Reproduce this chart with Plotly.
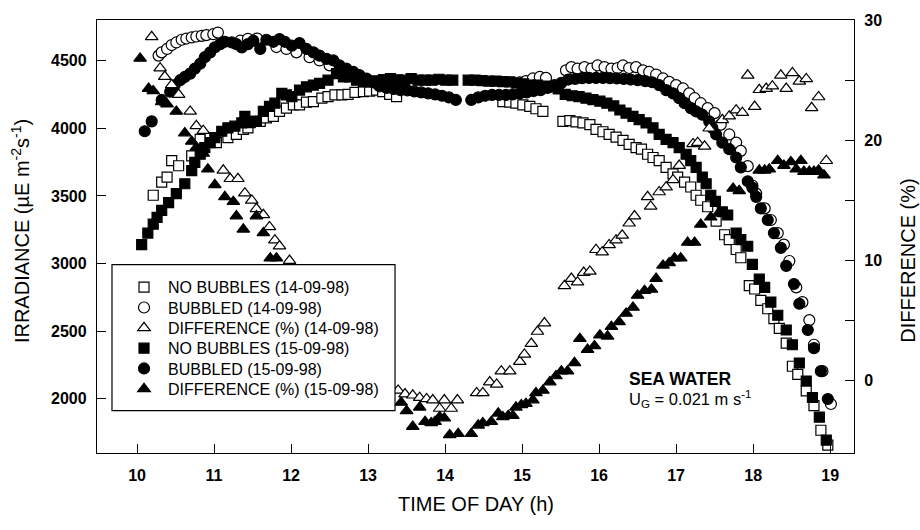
import plotly.graph_objects as go

# ---- 14-09-98: no bubbles (irradiance) ----
t_nb14 = [10.21, 10.32, 10.39, 10.45, 10.54, 10.71, 10.82, 10.95, 11.03, 11.18, 11.29, 11.38, 11.44,
          11.51, 11.60, 11.68, 11.77, 11.85, 11.94, 12.03, 12.11, 12.20, 12.29, 12.40, 12.48, 12.57,
          12.66, 12.74, 12.83, 12.94, 13.02, 13.11, 13.19, 13.28, 13.37,
          14.75, 14.84, 14.92, 15.01, 15.10, 15.18, 15.27,
          15.53, 15.62, 15.70, 15.79, 15.88, 15.96, 16.05, 16.13, 16.22, 16.31, 16.39, 16.48, 16.55,
          16.63, 16.70, 16.78, 16.87, 16.96, 17.02, 17.11, 17.19, 17.26, 17.32, 17.41, 17.52, 17.63,
          17.69, 17.78, 17.84, 17.95, 18.02, 18.10, 18.19, 18.27, 18.34, 18.43, 18.51, 18.58, 18.69,
          18.79, 18.88, 18.97]
v_nb14 = [3505, 3602, 3639, 3760, 3723, 3796, 3918, 3930, 3894, 3930, 3954, 3991, 4003,
          4051, 4051, 4076, 4088, 4124, 4149, 4173, 4173, 4193, 4197, 4222, 4233, 4246,
          4246, 4250, 4265, 4270, 4275, 4282, 4270, 4250, 4233,
          4197, 4193, 4185, 4173, 4161, 4144, 4124,
          4051, 4056, 4047, 4040, 4027, 3991, 3974, 3954, 3934, 3911, 3881, 3857, 3845,
          3808, 3784, 3760, 3711, 3663, 3639, 3602, 3566, 3505, 3468, 3420, 3313, 3213,
          3177, 3104, 3043, 2837, 2812, 2728, 2666, 2593, 2521, 2412, 2241, 2181, 2059,
          1950, 1768, 1658]

# ---- 14-09-98: bubbled (irradiance) ----
t_b14 = [10.28, 10.32, 10.39, 10.45, 10.51, 10.58, 10.64, 10.71, 10.77, 10.84, 10.90, 10.99, 11.05,
         11.34, 11.44, 11.56, 11.81, 11.94, 12.07, 12.24, 12.37, 12.50, 12.63, 12.83, 13.11, 13.19,
         14.97, 15.05, 15.14, 15.23, 15.31,
         15.57, 15.64, 15.72, 15.81, 15.90, 15.98, 16.07, 16.16, 16.24,
         16.31, 16.39, 16.48, 16.57, 16.65, 16.74, 16.83, 16.91, 17.00, 17.09, 17.17, 17.24, 17.32,
         17.41, 17.50, 17.58, 17.69, 17.78, 17.84, 17.93, 17.99, 18.04, 18.15, 18.23, 18.32, 18.40,
         18.47, 18.56, 18.64, 18.73, 18.79, 18.90, 19.01]
v_b14 = [4537, 4561, 4586, 4615, 4634, 4654, 4663, 4671, 4678, 4683, 4688, 4695, 4707,
         4647, 4661, 4663, 4600, 4586, 4561, 4525, 4501, 4465, 4428, 4377, 4331, 4319,
         4340, 4348, 4368, 4379, 4372,
         4428, 4452, 4440, 4452, 4440, 4464, 4452, 4440, 4445,
         4464, 4445, 4452, 4428, 4416, 4397, 4368, 4343, 4319, 4294, 4258, 4222, 4185,
         4149, 4112, 4027, 3954, 3894, 3833, 3720, 3577, 3517, 3408, 3322, 3225, 3140,
         3019, 2824, 2715, 2582, 2400, 2205, 1962]

# ---- 14-09-98: difference (%) ----
t_d14 = [10.19, 10.30, 10.36, 10.45, 10.54, 10.69, 10.77, 10.86, 11.12, 11.21, 11.31, 11.40, 11.49,
         11.55, 11.64, 11.72, 11.79, 11.85, 11.98,
         13.39, 13.48, 13.58, 13.67, 13.76, 13.84, 13.93, 13.99, 14.08, 14.16,
         14.41, 14.49, 14.58, 14.67, 14.73, 14.84, 14.97, 15.03, 15.12, 15.20, 15.29,
         15.55, 15.64, 15.72, 15.80, 15.88, 15.96, 16.04, 16.13, 16.22, 16.30, 16.39, 16.46,
         16.63, 16.67, 16.78, 16.87, 16.96, 17.04, 17.22, 17.28, 17.37, 17.43, 17.60, 17.69,
         17.78, 17.86, 17.93, 18.02, 18.08, 18.17, 18.25, 18.36, 18.43, 18.51, 18.60, 18.69,
         18.76, 18.85, 18.95]
d_d14 = [28.6, 26.0, 25.3, 24.6, 23.8, 22.4, 21.2, 20.8, 17.5, 16.8, 16.8, 15.6, 15.0,
         14.3, 13.8, 12.8, 11.7, 11.2, 10.0,
         -0.8, -1.1, -1.2, -1.4, -1.5, -1.6, -2.3, -1.6, -2.3, -1.6,
         -1.0, -1.0, -0.1, -0.3, 0.8, 0.8, 1.6, 2.2, 3.1, 4.1, 4.8,
         7.9, 8.5, 8.2, 9.0, 9.1, 10.9, 10.7, 11.3, 11.7, 12.1, 13.1, 13.7,
         15.3, 14.5, 15.7, 16.1, 16.7, 17.9, 19.7, 19.8, 19.5, 21.0, 21.7, 22.0,
         22.5, 22.3, 25.4, 22.8, 24.2, 24.3, 24.5, 25.4, 24.3, 25.6, 24.9, 25.1,
         22.7, 23.6, 18.3]

# ---- 15-09-98: no bubbles (irradiance) ----
t_nb15 = [10.06, 10.14, 10.21, 10.26, 10.32, 10.41, 10.51, 10.62, 10.71, 10.75, 10.82, 10.88, 10.95,
          11.01, 11.10, 11.18, 11.27, 11.36, 11.40, 11.47, 11.55, 11.64, 11.72, 11.79, 11.88, 11.94,
          12.01, 12.11, 12.20, 12.29, 12.37, 12.48, 12.59, 12.68, 12.76, 12.85, 12.94, 13.02,
          13.11, 13.20, 13.29, 13.38, 13.47, 13.56, 13.65, 13.74, 13.83, 13.92, 14.01, 14.10,
          14.30, 14.39, 14.48, 14.57, 14.66, 14.75, 14.84, 14.93, 15.02, 15.11, 15.20, 15.29,
          15.38, 15.47, 15.56, 15.65, 15.74, 15.83, 15.92, 16.01, 16.10, 16.19, 16.27,
          16.35, 16.44, 16.52, 16.61, 16.70, 16.78, 16.87, 16.96, 17.04, 17.13, 17.19, 17.26,
          17.34, 17.39, 17.45, 17.51, 17.60, 17.67, 17.78, 17.84, 17.93, 17.99, 18.08, 18.15,
          18.23, 18.32, 18.43, 18.51, 18.60, 18.69, 18.77, 18.86, 18.95]
v_nb15 = [3140, 3225, 3291, 3342, 3393, 3451, 3517, 3590, 3687, 3748, 3808, 3857, 3894,
          3930, 3978, 4003, 4015, 4039, 4088, 4042, 4051, 4124, 4161, 4185, 4258, 4246,
          4233, 4282, 4306, 4319, 4331, 4355, 4404, 4379, 4379, 4355, 4343, 4343,
          4350, 4360, 4367, 4358, 4355, 4367, 4355, 4355, 4355, 4362, 4355, 4355,
          4355, 4355, 4352, 4348, 4348, 4345, 4343, 4335, 4328, 4319, 4319, 4312,
          4306, 4290, 4250, 4240, 4233, 4222, 4212, 4200, 4185, 4165, 4135,
          4112, 4088, 4064, 4039, 4003, 3954, 3918, 3894, 3857, 3808, 3760, 3711,
          3639, 3590, 3505, 3459, 3383, 3359, 3225, 3177, 3128, 2994, 2885, 2824,
          2715, 2618, 2509, 2400, 2265, 2132, 2010, 1865, 1695]

# ---- 15-09-98: bubbled (irradiance) ----
t_b15 = [10.10, 10.19, 10.32, 10.43, 10.49, 10.56, 10.62, 10.69, 10.75, 10.82, 10.88, 10.95, 11.01,
         11.08, 11.14, 11.23, 11.29, 11.36, 11.44, 11.51, 11.60, 11.68, 11.77, 11.85, 11.92, 12.01,
         12.11, 12.20, 12.29, 12.37, 12.46, 12.55, 12.63, 12.72, 12.81, 12.89, 12.98, 13.06,
         13.15, 13.24, 13.33, 13.42, 13.51, 13.60, 13.69, 13.78, 13.87, 13.96, 14.05, 14.14,
         14.34, 14.43, 14.52, 14.61, 14.70, 14.79, 14.88, 14.97, 15.06, 15.15, 15.24, 15.33,
         15.42, 15.51, 15.60, 15.69, 15.78, 15.87, 15.96, 16.05, 16.14, 16.23, 16.32, 16.41,
         16.50, 16.60, 16.69, 16.78, 16.87, 16.96, 17.04, 17.11, 17.19, 17.26, 17.34, 17.43,
         17.47, 17.52, 17.60, 17.69, 17.78, 17.84, 17.93, 17.99, 18.04, 18.10, 18.19, 18.27,
         18.36, 18.43, 18.53, 18.60, 18.71, 18.79, 18.88, 18.97]
v_b15 = [3978, 4051, 4209, 4270, 4319, 4355, 4379, 4404, 4440, 4477, 4525, 4561, 4598,
         4622, 4639, 4634, 4622, 4598, 4622, 4647, 4586, 4654, 4639, 4659, 4639, 4610,
         4630, 4586, 4561, 4537, 4513, 4501, 4464, 4440, 4416, 4392, 4367, 4340,
         4310, 4298, 4290, 4282, 4280, 4272, 4265, 4258, 4250, 4240, 4228, 4209,
         4209, 4228, 4240, 4246, 4246, 4246, 4250, 4258, 4265, 4275, 4282, 4298,
         4318, 4335, 4360, 4365, 4370, 4372, 4372, 4372, 4370, 4368, 4365, 4360,
         4355, 4348, 4340, 4319, 4282, 4258, 4222, 4185, 4149, 4124, 4100, 4051,
         4003, 3954, 3894, 3845, 3784, 3711, 3608, 3561, 3493, 3408, 3322, 3225,
         3116, 2983, 2849, 2703, 2509, 2375, 2205, 1999]

# ---- 15-09-98: difference (%) ----
t_d15 = [10.04, 10.15, 10.21, 10.32, 10.39, 10.51, 10.62, 10.71, 10.77, 10.86, 10.92, 11.01, 11.14,
         11.25, 11.29, 11.38, 11.55, 11.64, 11.73, 11.81,
         13.43, 13.50, 13.58, 13.67, 13.74, 13.82, 13.87, 13.93, 13.99, 14.06, 14.17,
         14.34, 14.43, 14.49, 14.60, 14.69, 14.75, 14.82, 14.88, 14.92, 14.99, 15.05, 15.14,
         15.18, 15.27, 15.36, 15.44, 15.51, 15.59, 15.68, 15.75, 15.85, 15.94, 16.01, 16.11,
         16.16, 16.26, 16.35, 16.44, 16.50, 16.59, 16.68, 16.74, 16.83, 16.91, 16.98, 17.06,
         17.15, 17.24, 17.32, 17.45, 17.56, 17.74, 17.82,
         18.08, 18.15, 18.21, 18.32, 18.40, 18.49, 18.56, 18.62, 18.66, 18.73, 18.79, 18.85, 18.92]
d_d15 = [26.8, 24.3, 24.1, 23.2, 23.0, 22.4, 20.6, 19.9, 19.4, 18.9, 17.6, 16.3, 15.3,
         14.9, 13.7, 12.6, 13.7, 12.3, 10.2, 10.2,
         -1.8, -2.5, -3.8, -2.2, -3.4, -3.5, -3.4, -3.0, -3.1, -4.5, -4.4,
         -4.4, -3.7, -3.5, -3.4, -2.7, -3.0, -2.9, -2.9, -2.2, -2.0, -1.9, -1.6,
         -1.0, -0.8, -0.1, 0.4, 0.8, 0.8, 1.5, 3.5, 2.6, 2.9, 3.8, 3.7,
         4.5, 4.9, 5.6, 6.1, 7.1, 7.5, 7.6, 8.5, 9.6, 9.8, 10.2, 10.2,
         11.5, 11.5, 13.0, 13.6, 14.0, 16.0, 15.8,
         17.5, 17.5, 17.6, 18.3, 17.9, 18.2, 17.6, 18.3, 17.4, 17.4, 17.4, 17.5, 17.1]

x_ticks = list(range(10, 20))
y_ticks = [2000, 2500, 3000, 3500, 4000, 4500]
y2_ticks = [0, 5, 10, 15, 20, 25, 30]
y2_labels = ["0", "", "10", "", "20", "", "30"]

FONT = "Liberation Sans, Arial, Helvetica, sans-serif"
OUTLINE = dict(color="black", width=1.2)


def marker(symbol, filled, size):
    return dict(symbol=symbol, size=size,
                color="black" if filled else "white",
                line=OUTLINE)


series = [
    (t_nb14, v_nb14, "NO BUBBLES (14-09-98)", "square", False, 10, "y"),
    (t_b14, v_b14, "BUBBLED (14-09-98)", "circle", False, 11, "y"),
    (t_d14, d_d14, "DIFFERENCE (%) (14-09-98)", "triangle-up", False, 11, "y2"),
    (t_nb15, v_nb15, "NO BUBBLES (15-09-98)", "square", True, 10, "y"),
    (t_b15, v_b15, "BUBBLED (15-09-98)", "circle", True, 11, "y"),
    (t_d15, d_d15, "DIFFERENCE (%) (15-09-98)", "triangle-up", True, 11, "y2"),
]

# one legend per entry so the rows sit at an even 20.6 px pitch inside the key box
PLOT_TOP, PLOT_BOTTOM = 14, 453
row_centres = [285 + 20.6 * i for i in range(len(series))]
legend_ids = ["legend"] + [f"legend{i}" for i in range(2, len(series) + 1)]

fig = go.Figure()
for (xs, ys, name, sym, filled, size, axis), lid in zip(series, legend_ids):
    fig.add_trace(go.Scatter(x=xs, y=ys, name=name, mode="markers", legend=lid,
                             marker=marker(sym, filled, size), yaxis=axis))

legend_layout = {}
for lid, yc in zip(legend_ids, row_centres):
    legend_layout[lid] = dict(
        x=0.0304, y=(PLOT_BOTTOM - yc) / (PLOT_BOTTOM - PLOT_TOP),
        xanchor="left", yanchor="middle",
        bgcolor="rgba(0,0,0,0)", borderwidth=0, itemwidth=38,
        font=dict(family=FONT, size=16, color="black"))

axis_common = dict(showgrid=False, zeroline=False, showline=True, linecolor="black",
                   linewidth=1.3, ticks="inside", ticklen=9, tickwidth=1.2, tickcolor="black",
                   tickfont=dict(family=FONT, size=16, color="black", weight="bold"))

fig.update_layout(
    width=920, height=530,
    margin=dict(l=97, r=66, t=14, b=77),
    paper_bgcolor="white", plot_bgcolor="white",
    showlegend=True,
    xaxis=dict(range=[9.48, 19.31], tickvals=x_ticks, mirror=True,
               ticklabelstandoff=8, **axis_common),
    yaxis=dict(range=[1600, 4800], tickvals=y_ticks, ticklabelstandoff=6, **axis_common),
    yaxis2=dict(range=[-6, 30], tickvals=y2_ticks, ticktext=y2_labels, overlaying="y",
                side="right", ticklabelstandoff=6, **axis_common),
    shapes=[dict(type="rect", xref="paper", yref="paper", layer="above",
                 x0=0.0198, x1=0.3937, y0=0.098, y1=0.4351,
                 fillcolor="white", line=dict(color="black", width=1.2))],
    annotations=[
        dict(text="TIME OF DAY (h)", xref="paper", yref="paper", x=0.5, y=-0.118,
             showarrow=False, xanchor="center", yanchor="middle",
             font=dict(family=FONT, size=20, color="black")),
        dict(text="IRRADIANCE (µE m<sup>-2</sup>s<sup>-1</sup>)", xref="paper", yref="paper",
             x=-0.1017, y=0.5125, textangle=-90, showarrow=False,
             xanchor="center", yanchor="middle",
             font=dict(family=FONT, size=20, color="black")),
        dict(text="DIFFERENCE (%)", xref="paper", yref="paper", x=1.0713, y=0.444,
             textangle=-90, showarrow=False, xanchor="center", yanchor="middle",
             font=dict(family=FONT, size=20, color="black")),
        dict(text="<b>SEA WATER</b>", xref="paper", yref="paper", x=0.700, y=0.171,
             showarrow=False, xanchor="left", yanchor="middle",
             font=dict(family=FONT, size=17.5, color="black")),
        dict(text="U<sub>G</sub> = 0.021 m s<sup>-1</sup>", xref="paper", yref="paper",
             x=0.700, y=0.125, showarrow=False, xanchor="left", yanchor="middle",
             font=dict(family=FONT, size=16.5, color="black")),
    ],
    **legend_layout,
)

fig.write_html("out.html")
